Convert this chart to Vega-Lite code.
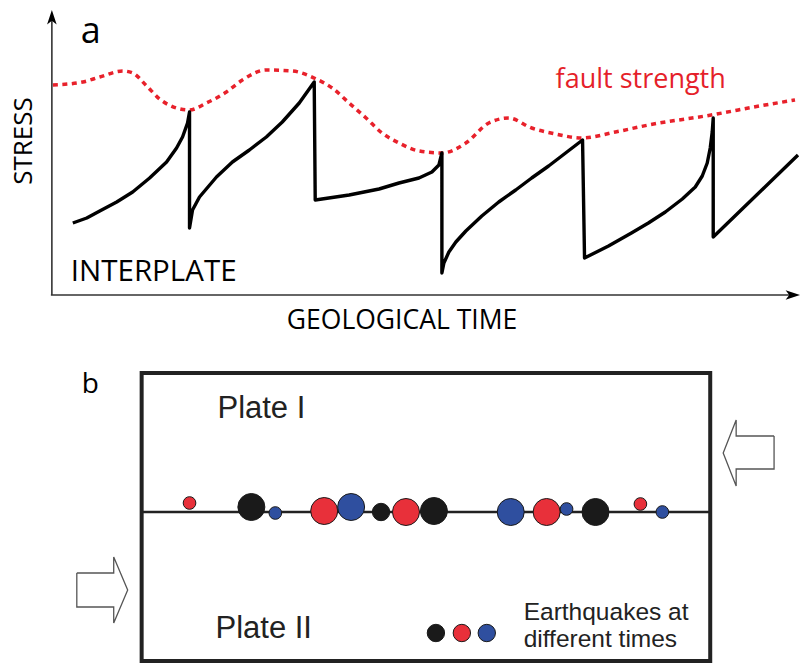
{
  "$schema": "https://vega.github.io/schema/vega-lite/v6.json",
  "width": 802,
  "height": 664,
  "padding": 0,
  "autosize": {"type": "fit", "contains": "padding"},
  "background": "white",
  "config": {"view": {"stroke": null}},
  "encoding": {
    "x": {"field": "x", "type": "quantitative", "scale": {"domain": [0, 802], "nice": false, "zero": false}, "axis": null},
    "y": {"field": "y", "type": "quantitative", "scale": {"domain": [0, 664], "nice": false, "zero": false, "reverse": true}, "axis": null}
  },
  "layer": [
    {
      "data": {"values": [
        {"x": 53, "y": 85}, {"x": 83, "y": 82}, {"x": 100, "y": 77}, {"x": 123, "y": 71}, {"x": 133, "y": 73},
        {"x": 147, "y": 86}, {"x": 160, "y": 99}, {"x": 177, "y": 108}, {"x": 190, "y": 110}, {"x": 207, "y": 103},
        {"x": 227, "y": 92}, {"x": 243, "y": 80}, {"x": 267, "y": 70}, {"x": 293, "y": 71}, {"x": 317, "y": 79},
        {"x": 333, "y": 88}, {"x": 350, "y": 103}, {"x": 367, "y": 118}, {"x": 383, "y": 133}, {"x": 400, "y": 143},
        {"x": 420, "y": 151}, {"x": 443, "y": 153}, {"x": 467, "y": 143}, {"x": 490, "y": 123}, {"x": 510, "y": 118},
        {"x": 533, "y": 128}, {"x": 557, "y": 134}, {"x": 583, "y": 138}, {"x": 617, "y": 132}, {"x": 650, "y": 125},
        {"x": 713, "y": 115}, {"x": 767, "y": 105}, {"x": 797, "y": 100}
      ]},
      "mark": {"type": "line", "color": "#e8212b", "strokeWidth": 3.5, "strokeDash": [5, 4.5], "interpolate": "monotone"}
    },
    {
      "data": {"values": [
        {"i": 1, "x": 73, "y": 223}, {"i": 2, "x": 87, "y": 218}, {"i": 3, "x": 100, "y": 211}, {"i": 4, "x": 117, "y": 202},
        {"i": 5, "x": 133, "y": 192}, {"i": 6, "x": 150, "y": 178}, {"i": 7, "x": 167, "y": 162}, {"i": 8, "x": 177, "y": 148},
        {"i": 9, "x": 183, "y": 137}, {"i": 10, "x": 188, "y": 123}, {"i": 11, "x": 190, "y": 112}, {"i": 12, "x": 190, "y": 228},
        {"i": 13, "x": 193, "y": 210}, {"i": 14, "x": 200, "y": 197}, {"i": 15, "x": 217, "y": 177}, {"i": 16, "x": 233, "y": 162},
        {"i": 17, "x": 250, "y": 150}, {"i": 18, "x": 267, "y": 137}, {"i": 19, "x": 283, "y": 122}, {"i": 20, "x": 300, "y": 103},
        {"i": 21, "x": 315, "y": 82}, {"i": 22, "x": 316, "y": 200}, {"i": 23, "x": 350, "y": 195}, {"i": 24, "x": 380, "y": 189},
        {"i": 25, "x": 400, "y": 183}, {"i": 26, "x": 420, "y": 178}, {"i": 27, "x": 433, "y": 172}, {"i": 28, "x": 440, "y": 165},
        {"i": 29, "x": 443, "y": 153}, {"i": 30, "x": 443, "y": 273}, {"i": 31, "x": 445, "y": 263}, {"i": 32, "x": 450, "y": 252},
        {"i": 33, "x": 457, "y": 242}, {"i": 34, "x": 467, "y": 231}, {"i": 35, "x": 483, "y": 216}, {"i": 36, "x": 500, "y": 202},
        {"i": 37, "x": 517, "y": 190}, {"i": 38, "x": 533, "y": 178}, {"i": 39, "x": 550, "y": 166}, {"i": 40, "x": 567, "y": 153},
        {"i": 41, "x": 584, "y": 140}, {"i": 42, "x": 586, "y": 258}, {"i": 43, "x": 610, "y": 246}, {"i": 44, "x": 633, "y": 233},
        {"i": 45, "x": 650, "y": 223}, {"i": 46, "x": 667, "y": 212}, {"i": 47, "x": 684, "y": 199}, {"i": 48, "x": 697, "y": 187},
        {"i": 49, "x": 704, "y": 176}, {"i": 50, "x": 709, "y": 163}, {"i": 51, "x": 712, "y": 148}, {"i": 52, "x": 714, "y": 132},
        {"i": 53, "x": 715, "y": 118}, {"i": 54, "x": 715, "y": 237}, {"i": 55, "x": 800, "y": 155}
      ]},
      "mark": {"type": "line", "color": "#000000", "strokeWidth": 3.4, "strokeJoin": "round"},
      "encoding": {"order": {"field": "i", "type": "quantitative"}}
    },
    {
      "data": {"values": [
        {"x": 52, "y": 295, "x2": 52, "y2": 16},
        {"x": 51, "y": 295, "x2": 797, "y2": 295}
      ]},
      "mark": {"type": "rule", "color": "#333333", "strokeWidth": 1.6},
      "encoding": {"x2": {"field": "x2"}, "y2": {"field": "y2"}}
    },
    {
      "data": {"values": [{"x": 52, "y": 18}]},
      "mark": {"type": "point", "shape": "M0,-1L0.6,0.8L0,0.35L-0.6,0.8Z", "size": 256, "filled": true, "color": "#000000", "opacity": 1}
    },
    {
      "data": {"values": [{"x": 794, "y": 295}]},
      "mark": {"type": "point", "shape": "M1,0L-0.8,0.6L-0.35,0L-0.8,-0.6Z", "size": 256, "filled": true, "color": "#000000", "opacity": 1}
    },
    {
      "data": {"values": [{"x": 81, "y": 43, "label": "a"}]},
      "mark": {"type": "text", "font": "Open Sans", "fontSize": 36, "align": "left", "baseline": "alphabetic", "color": "#000000"},
      "encoding": {"text": {"field": "label"}}
    },
    {
      "data": {"values": [{"x": 24, "y": 141, "label": "STRESS"}]},
      "mark": {"type": "text", "font": "Open Sans", "fontSize": 26, "angle": 270, "align": "center", "baseline": "middle", "color": "#000000"},
      "encoding": {"text": {"field": "label"}}
    },
    {
      "data": {"values": [{"x": 71, "y": 281, "label": "INTERPLATE"}]},
      "mark": {"type": "text", "font": "Open Sans", "fontSize": 29.5, "align": "left", "baseline": "alphabetic", "color": "#000000"},
      "encoding": {"text": {"field": "label"}}
    },
    {
      "data": {"values": [{"x": 403, "y": 329, "label": "GEOLOGICAL TIME"}]},
      "mark": {"type": "text", "font": "Open Sans", "fontSize": 26.5, "align": "center", "baseline": "alphabetic", "color": "#000000"},
      "encoding": {"text": {"field": "label"}}
    },
    {
      "data": {"values": [{"x": 557, "y": 88, "label": "fault strength"}]},
      "mark": {"type": "text", "font": "Open Sans", "fontSize": 27, "align": "left", "baseline": "alphabetic", "color": "#e51f2a"},
      "encoding": {"text": {"field": "label"}}
    },
    {
      "data": {"values": [{"x": 82, "y": 393, "label": "b"}]},
      "mark": {"type": "text", "font": "Open Sans", "fontSize": 28, "align": "left", "baseline": "alphabetic", "color": "#000000"},
      "encoding": {"text": {"field": "label"}}
    },
    {
      "data": {"values": [{"x": 142, "y": 373, "x2": 712, "y2": 661}]},
      "mark": {"type": "rect", "filled": false, "stroke": "#222222", "strokeWidth": 4},
      "encoding": {"x2": {"field": "x2"}, "y2": {"field": "y2"}}
    },
    {
      "data": {"values": [{"x": 142, "y": 512, "x2": 712}]},
      "mark": {"type": "rule", "color": "#222222", "strokeWidth": 2.5},
      "encoding": {"x2": {"field": "x2"}}
    },
    {
      "data": {"values": [
        {"x": 218, "y": 418, "label": "Plate I"},
        {"x": 216, "y": 638, "label": "Plate II"}
      ]},
      "mark": {"type": "text", "font": "Liberation Sans", "fontSize": 31, "align": "left", "baseline": "alphabetic", "color": "#222222"},
      "encoding": {"text": {"field": "label"}}
    },
    {
      "data": {"values": [
        {"x": 525, "y": 620, "label": "Earthquakes at"},
        {"x": 525, "y": 647, "label": "different times"}
      ]},
      "mark": {"type": "text", "font": "Liberation Sans", "fontSize": 24.5, "align": "left", "baseline": "alphabetic", "color": "#222222"},
      "encoding": {"text": {"field": "label"}}
    },
    {
      "data": {"values": [
        {"x": 190, "y": 503, "time": "t2", "mag": 4},
        {"x": 252, "y": 507, "time": "t1", "mag": 6},
        {"x": 276, "y": 513, "time": "t3", "mag": 4},
        {"x": 325, "y": 511, "time": "t2", "mag": 6},
        {"x": 352, "y": 507, "time": "t3", "mag": 6},
        {"x": 382, "y": 512, "time": "t1", "mag": 4.5},
        {"x": 407, "y": 512, "time": "t2", "mag": 6},
        {"x": 435, "y": 511, "time": "t1", "mag": 6},
        {"x": 512, "y": 512, "time": "t3", "mag": 6},
        {"x": 548, "y": 512, "time": "t2", "mag": 6},
        {"x": 568, "y": 509, "time": "t3", "mag": 4},
        {"x": 597, "y": 512, "time": "t1", "mag": 6},
        {"x": 642, "y": 504, "time": "t2", "mag": 4},
        {"x": 664, "y": 512, "time": "t3", "mag": 4},
        {"x": 437, "y": 633, "time": "t1", "mag": 4.5},
        {"x": 463, "y": 633, "time": "t2", "mag": 4.5},
        {"x": 488, "y": 633, "time": "t3", "mag": 4.5}
      ]},
      "mark": {"type": "circle", "opacity": 1, "stroke": "#1a1a1a", "strokeWidth": 1},
      "encoding": {
        "color": {"field": "time", "type": "nominal", "scale": {"domain": ["t1", "t2", "t3"], "range": ["#1a1a1a", "#e8303a", "#2f4f9f"]}, "legend": null},
        "size": {"field": "mag", "type": "quantitative", "scale": {"type": "linear", "domain": [4, 6], "range": [160, 729], "zero": false, "nice": false}, "legend": null}
      }
    },
    {
      "data": {"values": [
        {"arrow": "left", "i": 1, "x": 77, "y": 573}, {"arrow": "left", "i": 2, "x": 114, "y": 573},
        {"arrow": "left", "i": 3, "x": 114, "y": 557}, {"arrow": "left", "i": 4, "x": 128, "y": 590},
        {"arrow": "left", "i": 5, "x": 114, "y": 623}, {"arrow": "left", "i": 6, "x": 114, "y": 607},
        {"arrow": "left", "i": 7, "x": 77, "y": 607}, {"arrow": "left", "i": 8, "x": 77, "y": 573},
        {"arrow": "right", "i": 1, "x": 776, "y": 436}, {"arrow": "right", "i": 2, "x": 738, "y": 436},
        {"arrow": "right", "i": 3, "x": 738, "y": 420}, {"arrow": "right", "i": 4, "x": 725, "y": 453},
        {"arrow": "right", "i": 5, "x": 738, "y": 486}, {"arrow": "right", "i": 6, "x": 738, "y": 469},
        {"arrow": "right", "i": 7, "x": 776, "y": 469}, {"arrow": "right", "i": 8, "x": 776, "y": 436}
      ]},
      "mark": {"type": "line", "color": "#555555", "strokeWidth": 1.3},
      "encoding": {
        "detail": {"field": "arrow", "type": "nominal"},
        "order": {"field": "i", "type": "quantitative"}
      }
    }
  ]
}
